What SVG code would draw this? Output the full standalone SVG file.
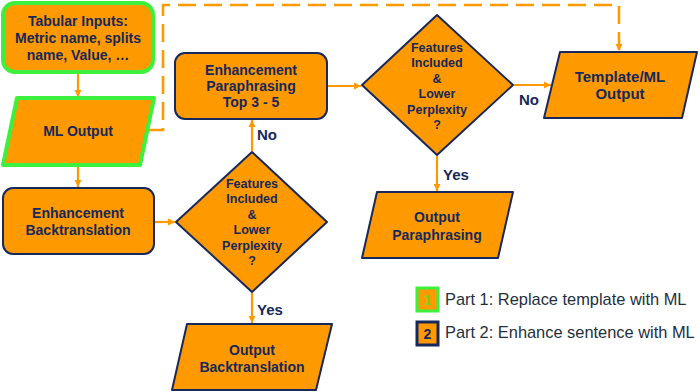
<svg xmlns="http://www.w3.org/2000/svg" width="700" height="392" viewBox="0 0 700 392">
<style>
.shape{fill:#FF9900;stroke:#16285C;stroke-width:2;stroke-linejoin:round}
.green{stroke:#3CF03C;stroke-width:4}
.t{font-family:"Liberation Sans",Arial,sans-serif;font-weight:bold;fill:#16285C;text-anchor:middle}
.b{font-size:14px}
.d{font-size:12.5px}
.lbl{font-family:"Liberation Sans",Arial,sans-serif;font-weight:bold;fill:#16285C;font-size:15px}
.leg{font-family:"Liberation Sans",Arial,sans-serif;fill:#232F3E;font-size:16.4px}
.c{fill:none;stroke:#FF9900;stroke-width:2.2}
.dash{stroke-dasharray:18 8;stroke-width:2.6}
</style>
<defs>
<marker id="ah" markerUnits="userSpaceOnUse" markerWidth="8" markerHeight="8" refX="7" refY="4" orient="auto">
<path d="M0,0.5 L7,4 L0,7.5 z" fill="#FF9900"/>
</marker>
</defs>

<g id="connectors">
<line class="c" x1="78" y1="74" x2="78" y2="97" marker-end="url(#ah)"/>
<line class="c" x1="78" y1="166" x2="78" y2="187" marker-end="url(#ah)"/>
<line class="c" x1="155" y1="222" x2="175" y2="222" marker-end="url(#ah)"/>
<line class="c" x1="252" y1="151" x2="252" y2="120" marker-end="url(#ah)"/>
<line class="c" x1="328" y1="86" x2="361" y2="86" marker-end="url(#ah)"/>
<line class="c" x1="514" y1="85" x2="551" y2="85" marker-end="url(#ah)"/>
<line class="c" x1="437" y1="156" x2="437" y2="191" marker-end="url(#ah)"/>
<line class="c" x1="252" y1="293" x2="252" y2="323" marker-end="url(#ah)"/>
<path class="c dash" d="M147,130 H163 V5 H619 V51" marker-end="url(#ah)"/>
<text class="lbl" x="257" y="140">No</text>
<text class="lbl" x="519" y="105">No</text>
<text class="lbl" x="257" y="315">Yes</text>
<text class="lbl" x="443" y="180">Yes</text>
</g>

<g id="tabular-inputs">
<rect class="shape green" x="3" y="3" width="150" height="69" rx="12"/>
<text class="t b" x="78" y="26">Tabular Inputs:</text>
<text class="t b" x="78" y="43">Metric name, splits</text>
<text class="t b" x="78" y="60">name, Value, …</text>
</g>

<g id="ml-output">
<polygon class="shape green" points="17,98 154,98 140,165 3,165"/>
<text class="t b" x="78" y="136">ML Output</text>
</g>

<g id="enh-backtranslation">
<rect class="shape" x="3" y="188" width="151" height="66" rx="10"/>
<text class="t b" x="78" y="218">Enhancement</text>
<text class="t b" x="78" y="235">Backtranslation</text>
</g>

<g id="decision-bt">
<polygon class="shape" points="252,152 327,222 252,292 176,222"/>
<text class="t d" x="252" y="187.5">Features</text>
<text class="t d" x="252" y="203">Included</text>
<text class="t d" x="252" y="218.5">&amp;</text>
<text class="t d" x="252" y="234">Lower</text>
<text class="t d" x="252" y="249.5">Perplexity</text>
<text class="t d" x="252" y="265">?</text>
</g>

<g id="output-bt">
<polygon class="shape" points="187,324 332,324 316,390 172,390"/>
<text class="t b" x="252" y="355">Output</text>
<text class="t b" x="252" y="372">Backtranslation</text>
</g>

<g id="enh-paraphrasing">
<rect class="shape" x="175" y="53" width="152" height="66" rx="10"/>
<text class="t b" x="251" y="75">Enhancement</text>
<text class="t b" x="251" y="91">Paraphrasing</text>
<text class="t b" x="251" y="107">Top 3 - 5</text>
</g>

<g id="decision-pp">
<polygon class="shape" points="437,15 513,85 437,155 362,85"/>
<text class="t d" x="437" y="51.5">Features</text>
<text class="t d" x="437" y="67">Included</text>
<text class="t d" x="437" y="82.5">&amp;</text>
<text class="t d" x="437" y="98">Lower</text>
<text class="t d" x="437" y="113.5">Perplexity</text>
<text class="t d" x="437" y="129">?</text>
</g>

<g id="template-ml-output">
<polygon class="shape" points="560,52 697,52 682,118 544,118"/>
<text class="t b" x="620" y="82" style="font-size:15px">Template/ML</text>
<text class="t b" x="620" y="99" style="font-size:15px">Output</text>
</g>

<g id="output-pp">
<polygon class="shape" points="377,192 513,192 498,258 362,258"/>
<text class="t b" x="437" y="222">Output</text>
<text class="t b" x="437" y="240">Paraphrasing</text>
</g>

<g id="legend">
<rect x="417" y="288" width="21" height="23" fill="#FF9900" stroke="#3CF03C" stroke-width="3"/>
<text class="t" x="427.5" y="305" style="font-size:14px;fill:#7ED321">1</text>
<text class="leg" x="445" y="305">Part 1: Replace template with ML</text>
<rect x="417" y="322" width="21" height="23" fill="#FF9900" stroke="#16285C" stroke-width="3"/>
<text class="t" x="427.5" y="339" style="font-size:14px">2</text>
<text class="leg" x="445" y="338">Part 2: Enhance sentence with ML</text>
</g>
</svg>
